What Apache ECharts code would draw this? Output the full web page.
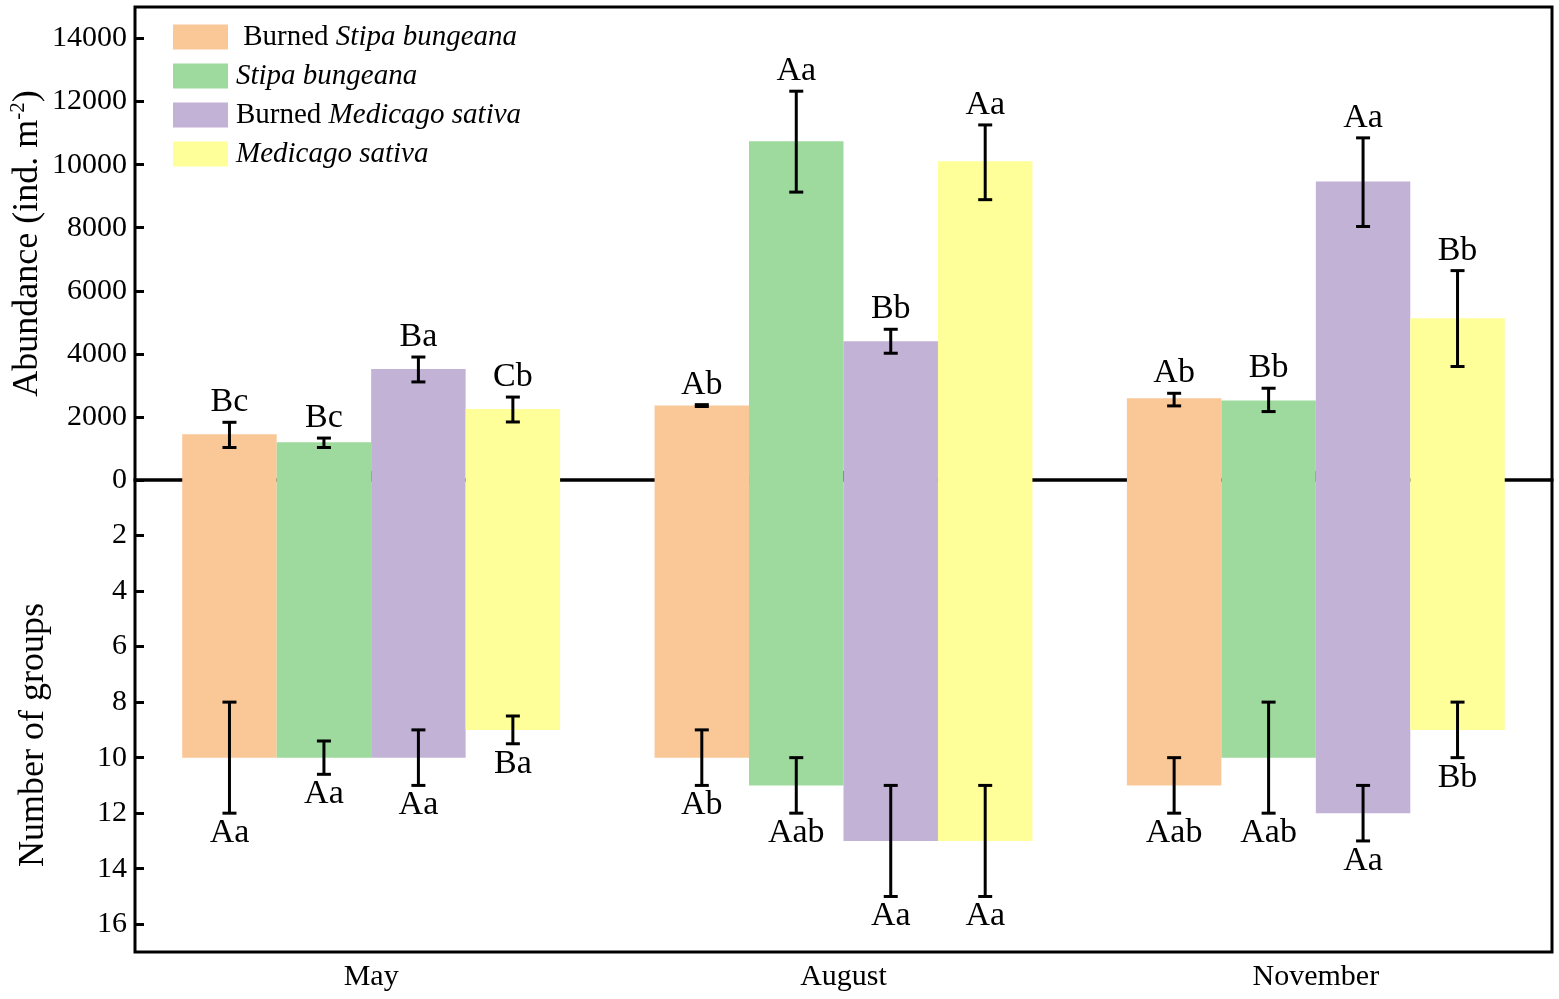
<!DOCTYPE html>
<html>
<head>
    <meta charset="utf-8">
    <title>Abundance and number of groups</title>
    <script src="https://cdn.jsdelivr.net/npm/echarts@6/dist/echarts.min.js"></script>
    <style>
        html, body {margin: 0; padding: 0; background: #fff;}
        #main {width: 1559px; height: 999px;}
    </style>
</head>
<body>
<div id="main"></div>
<script type="text/javascript">
    const months = ['May', 'August', 'November'];
    const treatments = ['Burned Stipa bungeana', 'Stipa bungeana', 'Burned Medicago sativa', 'Medicago sativa'];

    // abundance (ind. m-2): rows = treatment, columns = month
    const abundMean = [
        [1450, 2360, 2590],
        [1200, 10740, 2520],
        [3520, 4400, 9470],
        [2250, 10110, 5130]
    ];
    const abundLow = [
        [1030, 2330, 2350],
        [1030, 9130, 2170],
        [3110, 4020, 8040],
        [1840, 8890, 3600]
    ];
    const abundHigh = [
        [1830, 2390, 2750],
        [1330, 12330, 2910],
        [3900, 4780, 10850],
        [2630, 11260, 6640]
    ];
    const abundLetters = [
        ['Bc', 'Ab', 'Ab'],
        ['Bc', 'Aa', 'Bb'],
        ['Ba', 'Bb', 'Aa'],
        ['Cb', 'Aa', 'Bb']
    ];

    // number of groups
    const groupMean = [
        [10, 10, 11],
        [10, 11, 10],
        [10, 13, 12],
        [9, 13, 9]
    ];
    const groupLow = [
        [8, 9, 10],
        [9.4, 10, 8],
        [9, 11, 11],
        [8.5, 11, 8]
    ];
    const groupHigh = [
        [12, 11, 12],
        [10.6, 12, 12],
        [11, 15, 13],
        [9.5, 15, 10]
    ];
    const groupLetters = [
        ['Aa', 'Ab', 'Aab'],
        ['Aa', 'Aab', 'Aab'],
        ['Aa', 'Aa', 'Aa'],
        ['Ba', 'Aa', 'Bb']
    ];

    const abundTicks = [0, 15000, 2000];
    const groupTicks = [0, 17, 2];

    const colors = ['#FAC797', '#9ED99E', '#C2B2D6', '#FFFF99'];
    const FONT = '"Liberation Serif", "Times New Roman", serif';

    const chartDom = document.getElementById('main');
    const myChart = echarts.init(chartDom);

    function barSeries(gi, means) {
        return treatments.map(function (name, s) {
            return {
                name: name,
                type: 'bar',
                xAxisIndex: gi,
                yAxisIndex: gi,
                barGap: '0%',
                barCategoryGap: '20%',
                itemStyle: {color: colors[s]},
                data: means[s],
                z: 2
            };
        });
    }

    // error bars + letters, one custom series per treatment so offsets follow the bars
    function errSeries(gi, lows, highs, letters, below) {
        return treatments.map(function (name, s) {
            return {
                name: 'err' + gi + '_' + s,
                type: 'custom',
                xAxisIndex: gi,
                yAxisIndex: gi,
                z: 5,
                silent: true,
                encode: {x: 0, y: [1, 2]},
                data: months.map(function (m, i) {
                    return [i, lows[s][i], highs[s][i]];
                }),
                renderItem: function (params, api) {
                    const p1 = api.coord([api.value(0), api.value(1)]);
                    const p2 = api.coord([api.value(0), api.value(2)]);
                    const bw = api.size([1, 0])[0] * 0.2;
                    const x = p1[0] + (s - 1.5) * bw;
                    const yTop = Math.min(p1[1], p2[1]);
                    const yBot = Math.max(p1[1], p2[1]);
                    const cap = 7;
                    const st = {stroke: '#000', lineWidth: 3};
                    const txt = letters[s][params.dataIndex];
                    return {
                        type: 'group',
                        children: [
                            {type: 'line', shape: {x1: x, y1: yTop, x2: x, y2: yBot}, style: st},
                            {type: 'line', shape: {x1: x - cap, y1: yTop, x2: x + cap, y2: yTop}, style: st},
                            {type: 'line', shape: {x1: x - cap, y1: yBot, x2: x + cap, y2: yBot}, style: st},
                            {
                                type: 'text',
                                style: {
                                    text: txt,
                                    x: x,
                                    y: below ? yBot + 3 : yTop - 3,
                                    align: 'center',
                                    verticalAlign: below ? 'top' : 'bottom',
                                    fill: '#000',
                                    fontSize: 34,
                                    fontFamily: FONT
                                }
                            }
                        ]
                    };
                }
            };
        });
    }

    const plainNum = function (v) { return String(v); };

    const option = {
        animation: false,
        textStyle: {fontFamily: FONT},
        legend: {
            data: treatments,
            orient: 'vertical',
            left: 168,
            top: 17,
            itemWidth: 55,
            itemHeight: 25,
            itemGap: 9,
            icon: 'rect',
            selectedMode: false,
            formatter: function (name) {
                if (name.indexOf('Burned ') === 0) {
                    const pre = name === treatments[0] ? ' Burned ' : 'Burned ';
                    return pre + '{i|' + name.slice(7) + '}';
                }
                return '{i|' + name + '}';
            },
            textStyle: {
                fontSize: 29,
                lineHeight: 30,
                color: '#000',
                fontFamily: FONT,
                padding: [0, 0, 0, 3],
                rich: {
                    i: {fontSize: 29, lineHeight: 30, fontStyle: 'italic', fontFamily: FONT, color: '#000'}
                }
            }
        },
        grid: [
            {left: 135, right: 7, top: 7, height: 473, containLabel: false, outerBoundsMode: 'none',
                show: true, borderColor: '#000', borderWidth: 3, backgroundColor: 'transparent'},
            {left: 135, right: 7, top: 480, bottom: 47, containLabel: false, outerBoundsMode: 'none',
                show: true, borderColor: '#000', borderWidth: 3, backgroundColor: 'transparent'}
        ],
        xAxis: [
            {
                type: 'category', gridIndex: 0, data: months,
                axisLine: {show: false}, axisTick: {show: false}, axisLabel: {show: false}
            },
            {
                type: 'category', gridIndex: 1, data: months,
                axisLine: {show: false},
                axisTick: {show: true, inside: true, alignWithLabel: true, length: 9, lineStyle: {color: '#000', width: 3}},
                axisLabel: {color: '#000', fontSize: 30, margin: 10, fontFamily: FONT}
            }
        ],
        yAxis: [
            {
                type: 'value', gridIndex: 0,
                min: abundTicks[0], max: abundTicks[1], interval: abundTicks[2],
                splitLine: {show: false},
                axisLine: {show: false},
                axisTick: {show: true, inside: true, length: 9, lineStyle: {color: '#000', width: 3}},
                axisLabel: {color: '#000', fontSize: 30, margin: 8, showMaxLabel: false, fontFamily: FONT, formatter: plainNum},
                name: 'Abundance (ind. m{sup|-2})',
                nameLocation: 'middle',
                nameGap: 87,
                nameMoveOverlap: false,
                nameTextStyle: {
                    fontSize: 36, color: '#000', fontFamily: FONT, lineHeight: 40,
                    rich: {sup: {fontSize: 21, verticalAlign: 'top', lineHeight: 40, color: '#000', fontFamily: FONT}}
                }
            },
            {
                type: 'value', gridIndex: 1, inverse: true,
                min: groupTicks[0], max: groupTicks[1], interval: groupTicks[2],
                splitLine: {show: false},
                axisLine: {show: false},
                axisTick: {show: true, inside: true, length: 9, lineStyle: {color: '#000', width: 3}},
                axisLabel: {color: '#000', fontSize: 30, margin: 8, showMinLabel: false, showMaxLabel: false, fontFamily: FONT, formatter: plainNum},
                name: 'Number of groups',
                nameLocation: 'middle',
                nameGap: 83,
                nameMoveOverlap: false,
                nameTextStyle: {fontSize: 36, color: '#000', fontFamily: FONT, padding: [0, 38, 0, 0]}
            }
        ],
        series: []
            .concat(barSeries(0, abundMean))
            .concat(barSeries(1, groupMean))
            .concat(errSeries(0, abundLow, abundHigh, abundLetters, false))
            .concat(errSeries(1, groupLow, groupHigh, groupLetters, true))
    };

    option && myChart.setOption(option);
</script>
</body>
</html>
